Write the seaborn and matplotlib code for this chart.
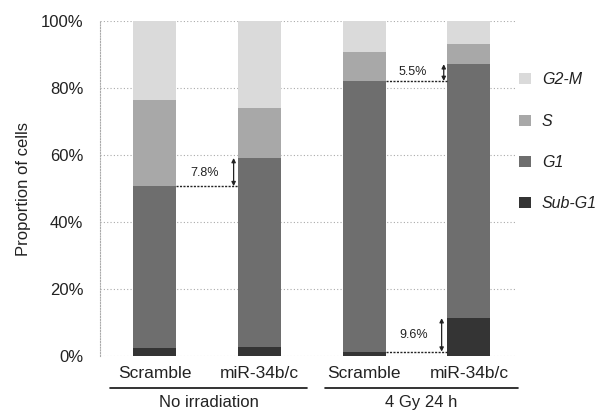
import numpy as np
import matplotlib
matplotlib.use("Agg")
import matplotlib.pyplot as plt
import seaborn as sns
from matplotlib.patches import Patch

sns.set_style("white")
plt.rcParams['font.family'] = ['Liberation Sans', 'DejaVu Sans']

# ---- data ----
bar_ids = ["NI-Scr", "NI-miR", "IR-Scr", "IR-miR"]
tick_labels = ["Scramble", "miR-34b/c", "Scramble", "miR-34b/c"]
group_labels = ["No irradiation", "4 Gy 24 h"]
phases = ["Sub-G1", "G1", "S", "G2-M"]
sub_g1 = [2.5, 2.8, 1.3, 11.3]
g1 = [48.2, 56.3, 80.8, 75.8]
s_phase = [25.7, 15.0, 8.7, 6.0]
g2m = [23.6, 25.9, 9.2, 6.9]
colors = {"Sub-G1": "#343434", "G1": "#6e6e6e", "S": "#a8a8a8", "G2-M": "#dadada"}
ann_labels = ["7.8%", "5.5%", "9.6%"]

fig = plt.figure(figsize=(6.09, 4.13), dpi=100)
ax = fig.add_axes([100/609, 1-356/413, 415/609, 335/413])

layers = np.cumsum([sub_g1, g1, s_phase, g2m], axis=0)
for name, cum in reversed(list(zip(phases, layers))):
    sns.barplot(x=bar_ids, y=cum, color=colors[name], width=0.41,
                saturation=1, ax=ax, zorder=3, edgecolor="none")

ax.set_xlim(-0.52, 3.44)
ax.set_ylim(0, 100)
ax.set_yticks([0, 20, 40, 60, 80, 100])
ax.set_yticklabels([f"{v}%" for v in [0, 20, 40, 60, 80, 100]], fontsize=12, color="#222222")
ax.set_xticks(range(4))
ax.set_xticklabels(tick_labels, fontsize=12.5, color="#222222")
ax.tick_params(axis='both', length=0)
ax.tick_params(axis='y', pad=12)
ax.tick_params(axis='x', pad=7)
ax.set_ylabel("Proportion of cells", fontsize=12, color="#222222", labelpad=7)
ax.set_xlabel("")
for sp in ["top", "right", "bottom"]:
    ax.spines[sp].set_visible(False)
ax.spines["left"].set_linestyle((0, (1, 1.5)))
ax.spines["left"].set_color("#aaaaaa")
ax.spines["left"].set_linewidth(0.8)
ax.yaxis.grid(True, linestyle=(0, (1, 2)), color="#aaaaaa", linewidth=0.8, zorder=0)
ax.set_axisbelow(True)

# annotations
hw = 0.205
cum_g1 = layers[1]
cum_sub = layers[0]
specs = [
    (0, 1, cum_g1[0], cum_g1[1], 0.755, 0.48, 54.6, ann_labels[0]),
    (2, 3, cum_g1[2], cum_g1[3], 2.76, 2.46, 84.8, ann_labels[1]),
    (2, 3, cum_sub[2], cum_sub[3], 2.74, 2.47, 6.3, ann_labels[2]),
]
for i0, i1, ylo, yhi, xa, xt, yt, lab in specs:
    ax.plot([i0 + hw, i1 - hw], [ylo, ylo], linestyle=(0, (1.5, 1)), color="#222222",
            linewidth=1.0, zorder=5)
    ax.annotate("", xy=(xa, yhi), xytext=(xa, ylo),
                arrowprops=dict(arrowstyle="<|-|>", color="#222222", lw=0.9,
                                mutation_scale=6, shrinkA=0, shrinkB=0), zorder=5)
    ax.text(xt, yt, lab, ha="center", va="center", fontsize=9, color="#222222", zorder=6)

# group underlines and labels
trans = ax.get_xaxis_transform()
for (x0, x1), lab in zip([(-0.425, 1.455), (1.627, 3.47)], group_labels):
    ax.plot([x0, x1], [-0.096, -0.096], color="#111111", lw=1.2, transform=trans, clip_on=False)
    ax.text((x0 + x1) / 2, -0.14, lab, transform=trans, ha="center", va="center",
            fontsize=12, color="#222222")

# legend
handles = [Patch(facecolor=colors[p], edgecolor="none") for p in reversed(phases)]
leg = fig.legend(handles, list(reversed(phases)), loc="upper left",
                 bbox_to_anchor=(505/609, 1-58/413), frameon=False,
                 prop={"style": "italic", "size": 11.5}, labelspacing=1.65,
                 handlelength=0.7, handleheight=0.7, handletextpad=0.7)
for t in leg.get_texts():
    t.set_color("#222222")

fig.savefig("out.png", dpi=100)
